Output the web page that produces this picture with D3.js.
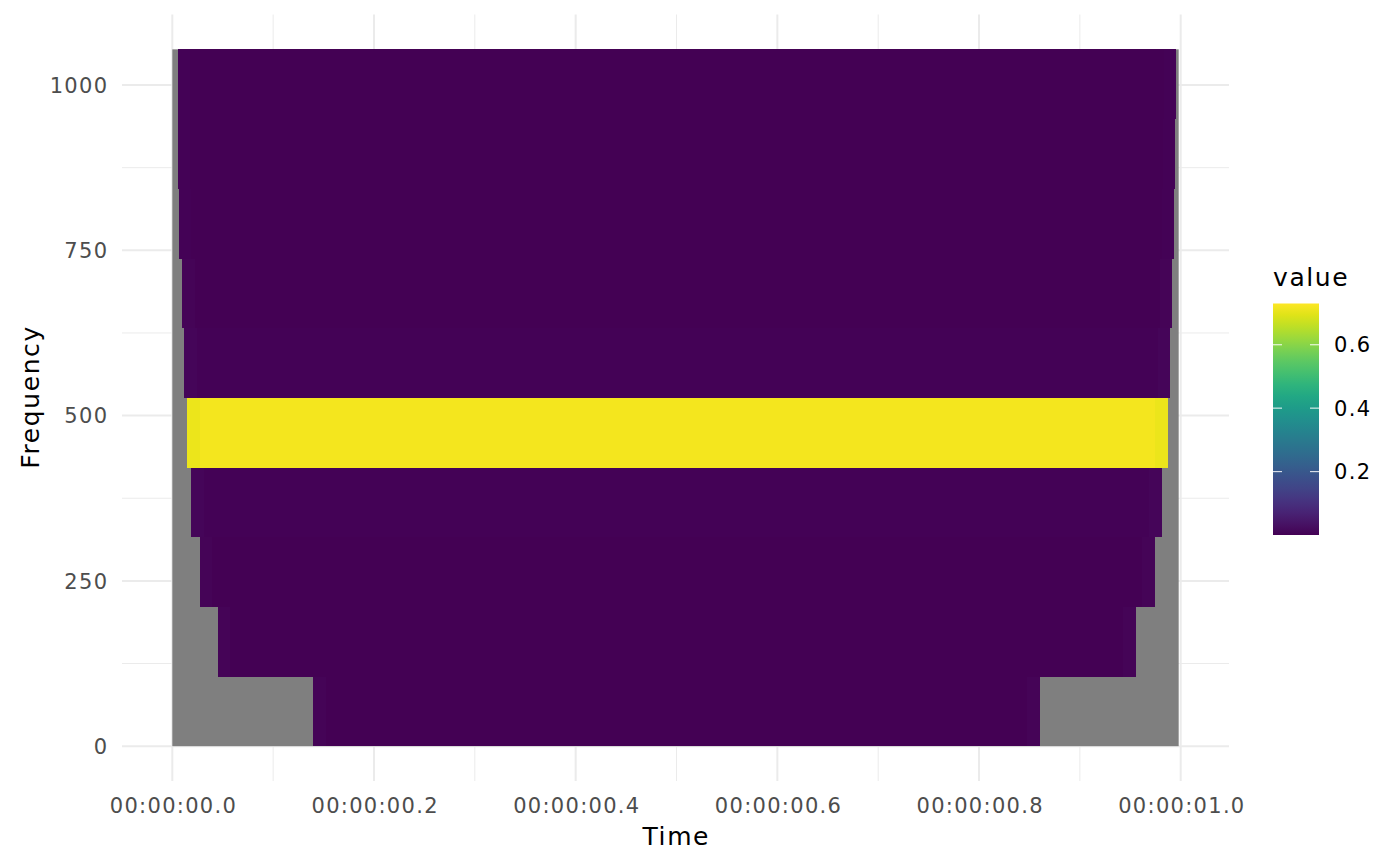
<!DOCTYPE html>
<html>
<head>
<meta charset="utf-8">
<script src="https://cdn.jsdelivr.net/npm/d3@7"></script>
<style>
  body { margin: 0; background: #fff; }
  text { font-family: "DejaVu Sans", sans-serif; }
</style>
</head>
<body>
<div id="chart"></div>
<script>
// frequency bands (Hz), lower and upper edge of each tile row
var bandLow  = [0, 105.4, 210.8, 316.2, 421.6, 527, 632.4, 737.8, 843.2, 948.6];
var bandHigh = [105.4, 210.8, 316.2, 421.6, 527, 632.4, 737.8, 843.2, 948.6, 1054];
// cone of influence: where each band has values (outside = NA / grey)
var coiStart = [0.140, 0.045, 0.027, 0.019, 0.015, 0.012, 0.010, 0.007, 0.006, 0.006];
var coiEnd   = [0.860, 0.955, 0.974, 0.981, 0.987, 0.989, 0.991, 0.993, 0.994, 0.995];
// power inside band, and slightly raised power near the cone edges
var bandPower = [0.002, 0.002, 0.002, 0.003, 0.716, 0.003, 0.002, 0.002, 0.002, 0.002];
var edgePower = [0.006, 0.006, 0.008, 0.010, 0.708, 0.009, 0.006, 0.004, 0.003, 0.003];
// signal time span
var timeSpan = [0, 0.998];

var xTicks = [0, 0.2, 0.4, 0.6, 0.8, 1.0];
var xTickLabels = ["00:00:00.0", "00:00:00.2", "00:00:00.4", "00:00:00.6", "00:00:00.8", "00:00:01.0"];
var xMinor = [0.1, 0.3, 0.5, 0.7, 0.9];
var yTicks = [0, 250, 500, 750, 1000];
var yTickLabels = ["0", "250", "500", "750", "1000"];
var yMinor = [125, 375, 625, 875];
var legendTicks = [0.2, 0.4, 0.6];
var legendLabels = ["0.2", "0.4", "0.6"];
var valueRange = [0, 0.73];

function makeChart() {
  var svgWidth = 1400, svgHeight = 866;
  var panel = { left: 122, right: 1229, top: 14.5, bottom: 781 };
  var tickFont = 21, tickSpacing = 1.3;
  var titleFont = 25, titleSpacing = 1.6;

  var svg = d3.select("#chart").append("svg")
    .attr("width", svgWidth)
    .attr("height", svgHeight);

  // Scales (5% expansion like ggplot)
  var xPad = (timeSpan[1] - timeSpan[0]) * 0.05;
  var xScale = d3.scaleLinear()
    .domain([timeSpan[0] - xPad, timeSpan[1] + xPad])
    .range([panel.left, panel.right]);
  var yMax = d3.max(bandHigh);
  var yScale = d3.scaleLinear()
    .domain([-yMax * 0.05, yMax * 1.05])
    .range([panel.bottom, panel.top]);
  var color = d3.scaleSequential(d3.interpolateViridis).domain(valueRange);

  // Grid
  var grid = svg.append("g");
  grid.selectAll(".xminor").data(xMinor).enter().append("line")
    .attr("x1", d => xScale(d)).attr("x2", d => xScale(d))
    .attr("y1", panel.top).attr("y2", panel.bottom)
    .attr("stroke", "#ebebeb").attr("stroke-width", 1);
  grid.selectAll(".yminor").data(yMinor).enter().append("line")
    .attr("y1", d => yScale(d)).attr("y2", d => yScale(d))
    .attr("x1", panel.left).attr("x2", panel.right)
    .attr("stroke", "#ebebeb").attr("stroke-width", 1);
  grid.selectAll(".xmajor").data(xTicks).enter().append("line")
    .attr("x1", d => xScale(d)).attr("x2", d => xScale(d))
    .attr("y1", panel.top).attr("y2", panel.bottom)
    .attr("stroke", "#ebebeb").attr("stroke-width", 2);
  grid.selectAll(".ymajor").data(yTicks).enter().append("line")
    .attr("y1", d => yScale(d)).attr("y2", d => yScale(d))
    .attr("x1", panel.left).attr("x2", panel.right)
    .attr("stroke", "#ebebeb").attr("stroke-width", 2);

  // NA background (grey)
  svg.append("rect")
    .attr("x", xScale(timeSpan[0]))
    .attr("width", xScale(timeSpan[1]) - xScale(timeSpan[0]))
    .attr("y", yScale(yMax))
    .attr("height", yScale(0) - yScale(yMax))
    .attr("fill", "#7f7f7f");

  // Tiles per band
  var bands = bandLow.map(function(lo, i) {
    return { lo: lo, hi: bandHigh[i], t0: coiStart[i], t1: coiEnd[i], v: bandPower[i], e: edgePower[i] };
  });
  var tiles = svg.append("g");
  bands.forEach(function(b) {
    var edge = 0.012;
    var segs = [
      [b.t0, b.t0 + edge, b.e],
      [b.t0 + edge, b.t1 - edge, b.v],
      [b.t1 - edge, b.t1, b.e]
    ];
    tiles.selectAll(null).data(segs).enter().append("rect")
      .attr("x", d => xScale(d[0]))
      .attr("width", d => xScale(d[1]) - xScale(d[0]) + 0.5)
      .attr("y", yScale(b.hi))
      .attr("height", yScale(b.lo) - yScale(b.hi) + 0.3)
      .attr("fill", d => color(d[2]))
      .attr("shape-rendering", "crispEdges");
  });

  // Axes
  var bottomAxis = d3.axisBottom(xScale).tickValues(xTicks)
    .tickFormat((d, i) => xTickLabels[i]).tickSize(0).tickPadding(0);
  var xAxis = svg.append("g").attr("transform", `translate(0, ${panel.bottom})`).call(bottomAxis);
  xAxis.select(".domain").remove();
  xAxis.selectAll("text")
    .attr("x", tickSpacing / 2)
    .attr("y", 25).attr("dy", "0.35em")
    .attr("font-size", tickFont).attr("letter-spacing", tickSpacing)
    .attr("font-family", "DejaVu Sans").attr("fill", "#4d4d4d");

  var leftAxis = d3.axisLeft(yScale).tickValues(yTicks)
    .tickFormat((d, i) => yTickLabels[i]).tickSize(0).tickPadding(0);
  var yAxis = svg.append("g").attr("transform", `translate(${107 + tickSpacing}, 0)`).call(leftAxis);
  yAxis.select(".domain").remove();
  yAxis.selectAll("text")
    .attr("x", 0).attr("dy", "0.35em")
    .attr("font-size", tickFont).attr("letter-spacing", tickSpacing)
    .attr("font-family", "DejaVu Sans").attr("fill", "#4d4d4d");

  // Axis titles
  svg.append("text")
    .attr("x", (panel.left + panel.right) / 2 + titleSpacing / 2).attr("y", 836).attr("dy", "0.35em")
    .attr("text-anchor", "middle").attr("font-size", titleFont).attr("letter-spacing", titleSpacing)
    .text("Time");
  svg.append("text")
    .attr("transform", `translate(30, ${(panel.top + panel.bottom) / 2 - titleSpacing / 2}) rotate(-90)`)
    .attr("dy", "0.35em")
    .attr("text-anchor", "middle").attr("font-size", titleFont).attr("letter-spacing", titleSpacing)
    .text("Frequency");

  // Legend
  var lg = { x: 1273, y: 303.5, w: 46, h: 231.5 };
  var defs = svg.append("defs");
  var grad = defs.append("linearGradient").attr("id", "vgrad")
    .attr("x1", 0).attr("x2", 0).attr("y1", 1).attr("y2", 0);
  d3.range(0, 1.0001, 0.05).forEach(function(t) {
    grad.append("stop").attr("offset", t)
      .attr("stop-color", color(valueRange[0] + t * (valueRange[1] - valueRange[0])));
  });
  svg.append("text").attr("x", lg.x).attr("y", 286)
    .attr("font-size", titleFont).attr("letter-spacing", titleSpacing).text("value");
  svg.append("rect").attr("x", lg.x).attr("y", lg.y)
    .attr("width", lg.w).attr("height", lg.h).attr("fill", "url(#vgrad)");
  var lScale = d3.scaleLinear().domain(valueRange).range([lg.y + lg.h, lg.y]);
  var lt = svg.append("g");
  lt.selectAll(".tl").data(legendTicks).enter().append("line")
    .attr("x1", lg.x).attr("x2", lg.x + 9)
    .attr("y1", d => lScale(d)).attr("y2", d => lScale(d))
    .attr("stroke", "#fff").attr("stroke-opacity", 0.8).attr("stroke-width", 1.2);
  lt.selectAll(".tr").data(legendTicks).enter().append("line")
    .attr("x1", lg.x + lg.w - 9).attr("x2", lg.x + lg.w)
    .attr("y1", d => lScale(d)).attr("y2", d => lScale(d))
    .attr("stroke", "#fff").attr("stroke-opacity", 0.8).attr("stroke-width", 1.2);
  lt.selectAll("text").data(legendTicks).enter().append("text")
    .attr("x", 1334).attr("y", d => lScale(d)).attr("dy", "0.35em")
    .attr("font-size", tickFont).attr("letter-spacing", tickSpacing)
    .text((d, i) => legendLabels[i]);
}

makeChart();
</script>
</body>
</html>
